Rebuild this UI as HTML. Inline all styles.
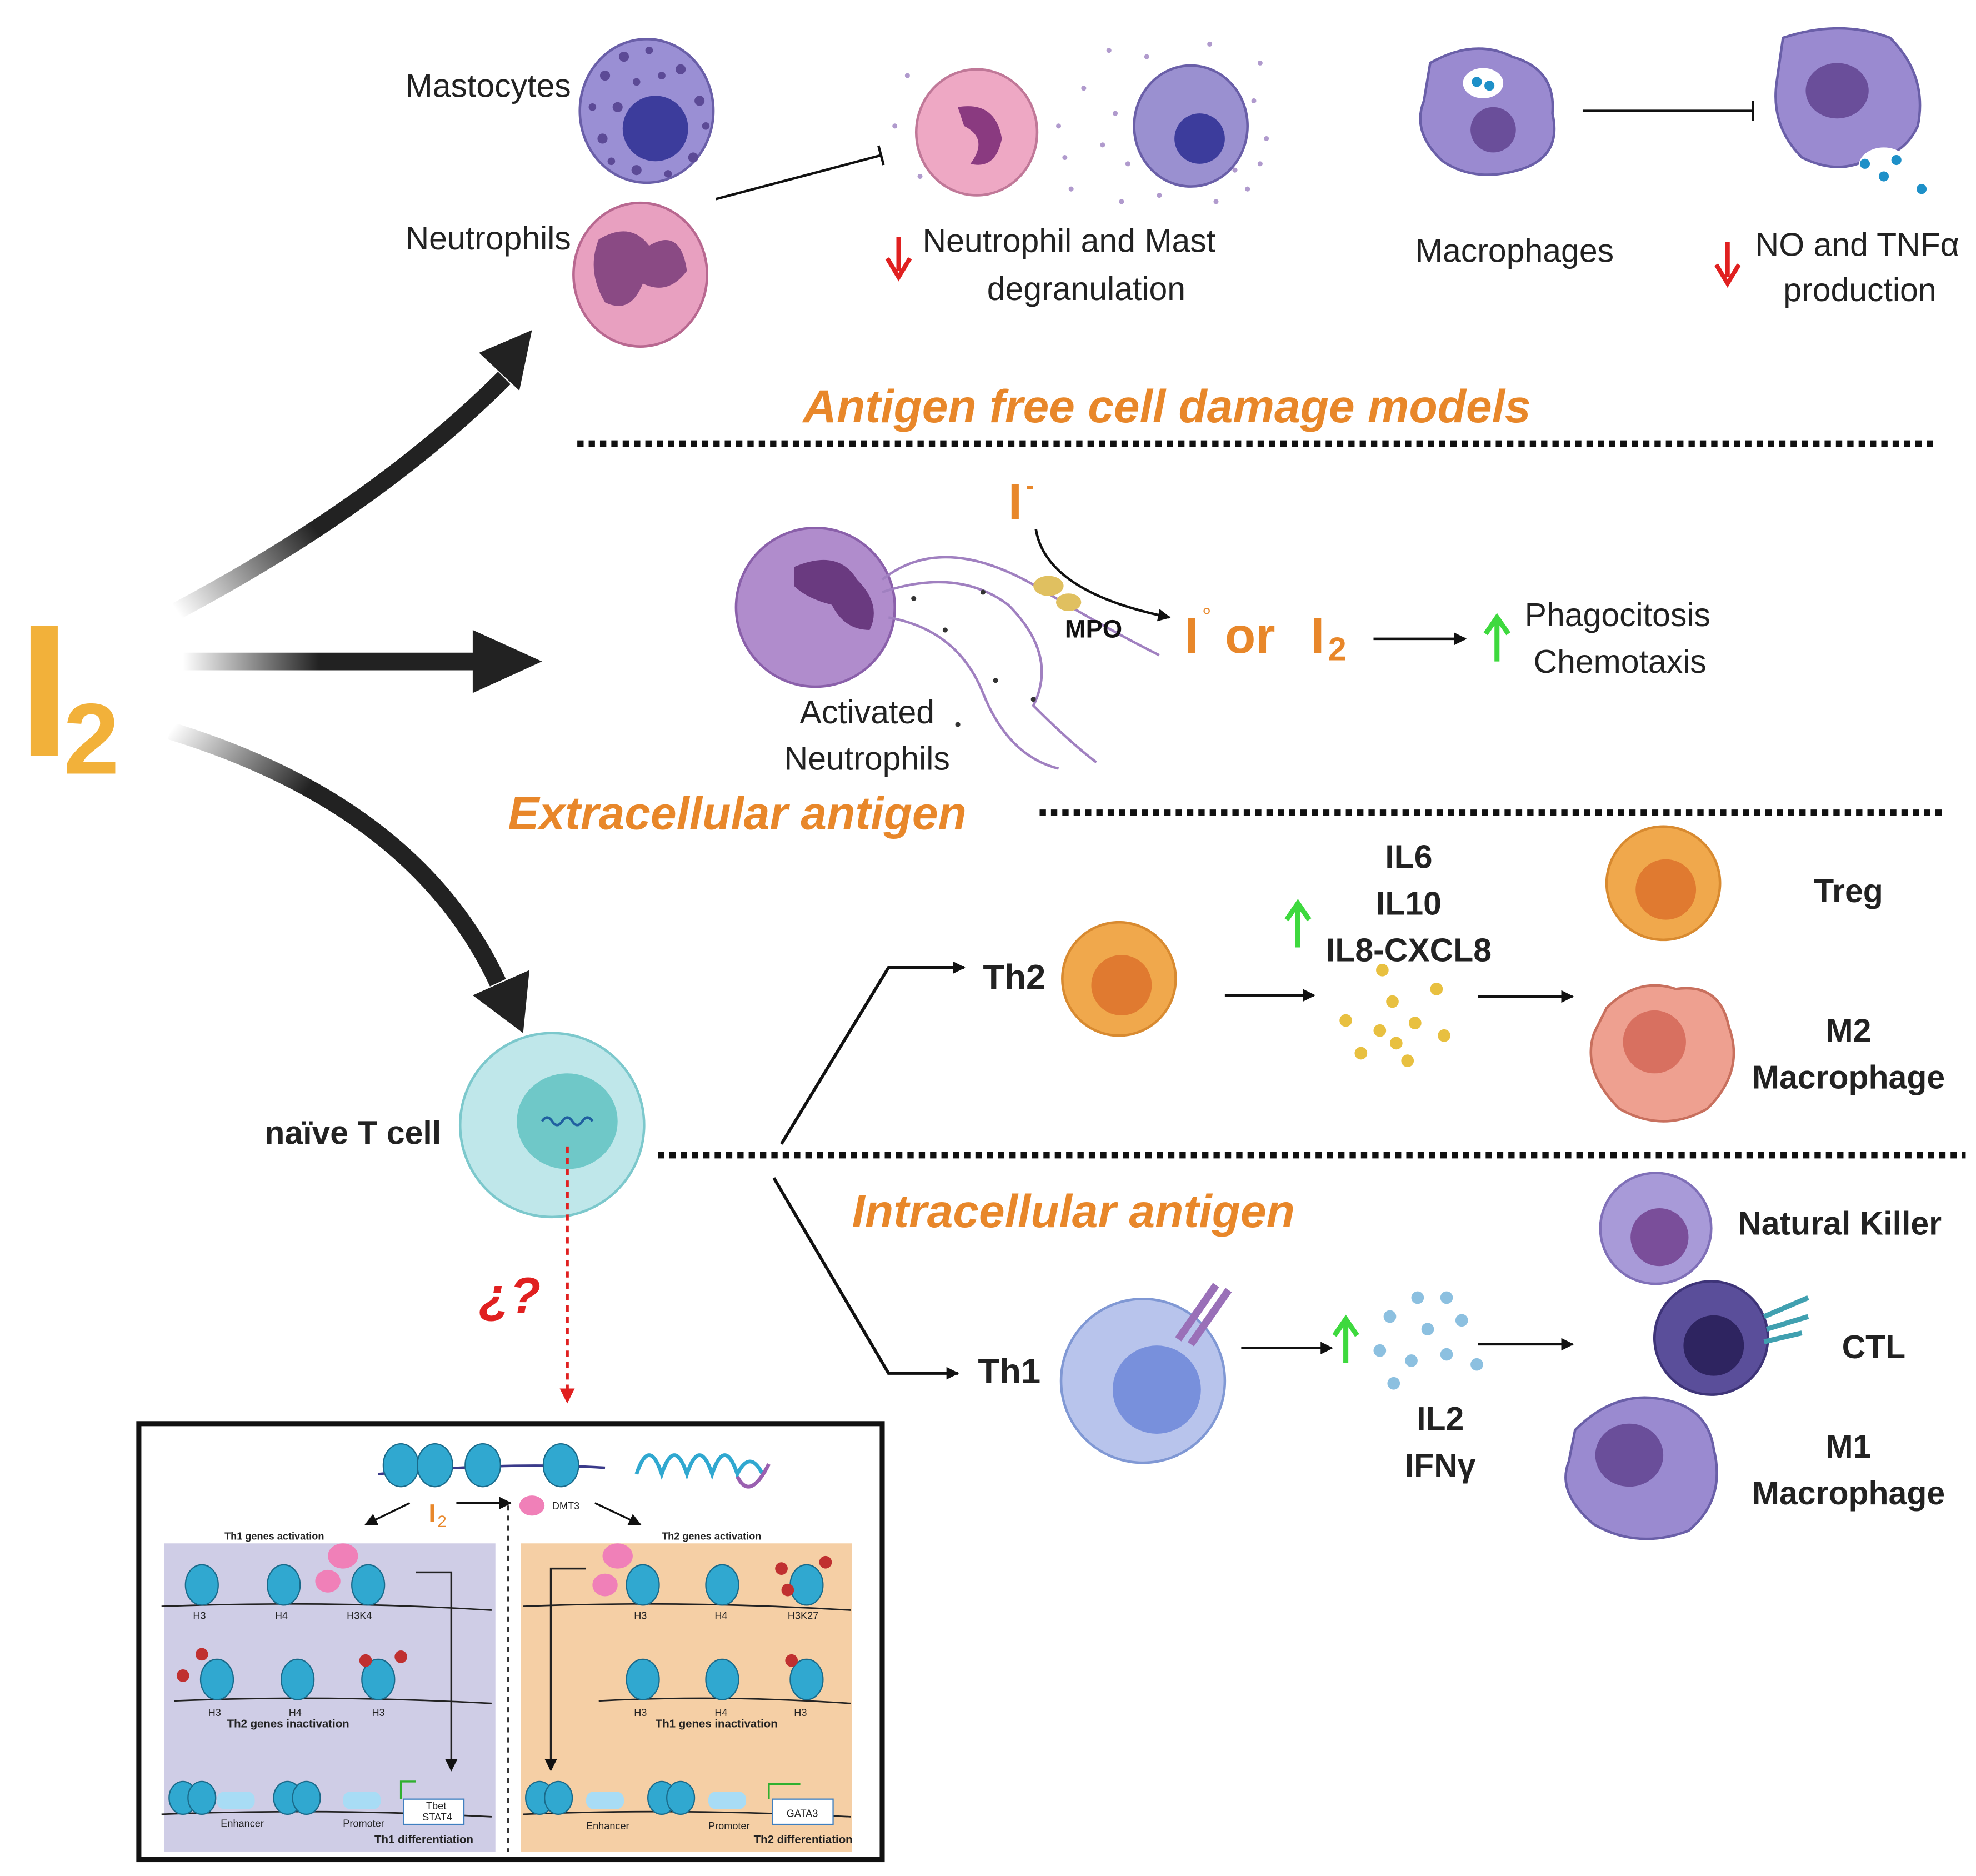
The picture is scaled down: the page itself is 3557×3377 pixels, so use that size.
<!DOCTYPE html>
<html><head><meta charset="utf-8"><style>
html,body{margin:0;padding:0;background:#fff;}
svg{display:block;}
text{font-family:"Liberation Sans","DejaVu Sans",sans-serif;}
</style></head><body>
<svg width="3557" height="3377" viewBox="0 0 1568 1489" xmlns="http://www.w3.org/2000/svg">
<defs>
<linearGradient id="gu" gradientUnits="userSpaceOnUse" x1="140" y1="485" x2="400" y2="300"><stop offset="0" stop-color="#222" stop-opacity="0"/><stop offset="0.4" stop-color="#222"/></linearGradient>
<linearGradient id="gm" gradientUnits="userSpaceOnUse" x1="145" y1="525" x2="385" y2="525"><stop offset="0" stop-color="#222" stop-opacity="0"/><stop offset="0.45" stop-color="#222"/></linearGradient>
<linearGradient id="gl" gradientUnits="userSpaceOnUse" x1="135" y1="580" x2="395" y2="780"><stop offset="0" stop-color="#222" stop-opacity="0"/><stop offset="0.35" stop-color="#222"/></linearGradient>
<marker id="ah" markerWidth="10" markerHeight="10" refX="9" refY="5" orient="auto" markerUnits="userSpaceOnUse"><path d="M0,0 L10,5 L0,10z" fill="#111"/></marker>
<marker id="tb" markerWidth="4" markerHeight="16" refX="2" refY="8" orient="auto" markerUnits="userSpaceOnUse"><rect x="0" y="0" width="2" height="16" fill="#111"/></marker>
<marker id="rh" markerWidth="12" markerHeight="12" refX="10" refY="6" orient="auto" markerUnits="userSpaceOnUse"><path d="M0,0 L12,6 L0,12z" fill="#e02020"/></marker>
</defs>

<!-- I2 -->
<text x="14" y="600" font-size="150" font-weight="bold" fill="#f2b13a">I</text>
<text x="50" y="614" font-size="80" font-weight="bold" fill="#f2b13a">2</text>

<!-- big arrows -->
<path d="M140,485 Q300,400 400,300" stroke="url(#gu)" stroke-width="14" fill="none"/>
<path d="M380,280 L422,262 L412,310z" fill="#222"/>
<path d="M145,525 L385,525" stroke="url(#gm)" stroke-width="14" fill="none"/>
<path d="M375,500 L430,525 L375,550z" fill="#222"/>
<path d="M135,580 Q330,640 395,780" stroke="url(#gl)" stroke-width="14" fill="none"/>
<path d="M375,790 L415,820 L420,770z" fill="#222"/>

<!-- dotted lines -->
<line x1="458" y1="352" x2="1537" y2="352" stroke="#111" stroke-width="5" stroke-dasharray="5,4"/>
<line x1="825" y1="645" x2="1545" y2="645" stroke="#111" stroke-width="5" stroke-dasharray="5,4"/>
<line x1="522" y1="917" x2="1560" y2="917" stroke="#111" stroke-width="5" stroke-dasharray="5,4"/>

<!-- headings -->
<g font-style="italic" font-weight="bold" fill="#e8872a" font-size="37">
<text x="926" y="335" text-anchor="middle">Antigen free cell damage models</text>
<text x="403" y="658">Extracellular antigen</text>
<text x="676" y="974">Intracellular antigen</text>
</g>

<!-- top section -->
<text x="453" y="77" font-size="26" text-anchor="end" fill="#222">Mastocytes</text>
<text x="453" y="198" font-size="26" text-anchor="end" fill="#222">Neutrophils</text>
<ellipse cx="513" cy="88" rx="53" ry="57" fill="#9a8fd4" stroke="#6a5fa8" stroke-width="2"/>
<circle cx="520" cy="102" r="26" fill="#3c3c9c"/>
<g fill="#5c4a96"><circle cx="480" cy="60" r="4"/><circle cx="495" cy="45" r="4"/><circle cx="540" cy="55" r="4"/><circle cx="478" cy="110" r="4"/><circle cx="505" cy="135" r="4"/><circle cx="550" cy="125" r="4"/><circle cx="555" cy="80" r="4"/><circle cx="490" cy="85" r="4"/><circle cx="470" cy="85" r="3"/><circle cx="515" cy="40" r="3"/><circle cx="525" cy="60" r="3"/><circle cx="560" cy="100" r="3"/><circle cx="485" cy="128" r="3"/><circle cx="530" cy="138" r="3"/><circle cx="505" cy="65" r="3"/></g>
<ellipse cx="508" cy="218" rx="53" ry="57" fill="#e8a0c0" stroke="#b86890" stroke-width="2"/>
<path d="M475,190 Q500,175 515,195 Q540,180 545,215 Q530,235 510,225 Q500,250 480,240 Q465,215 475,190z" fill="#8a4a84"/>
<line x1="568" y1="158" x2="700" y2="123" stroke="#111" stroke-width="2" marker-end="url(#tb)"/>

<!-- degranulating cells -->
<g fill="#9070b8" opacity="0.7">
<circle cx="720" cy="60" r="2"/><circle cx="730" cy="140" r="2"/><circle cx="860" cy="70" r="2"/><circle cx="850" cy="150" r="2"/><circle cx="880" cy="40" r="2"/><circle cx="1000" cy="50" r="2"/><circle cx="990" cy="150" r="2"/><circle cx="1005" cy="110" r="2"/><circle cx="890" cy="160" r="2"/><circle cx="710" cy="100" r="2"/>
<circle cx="885" cy="90" r="2"/><circle cx="895" cy="130" r="2"/><circle cx="995" cy="80" r="2"/><circle cx="980" cy="135" r="2"/><circle cx="910" cy="45" r="2"/><circle cx="960" cy="35" r="2"/><circle cx="875" cy="115" r="2"/><circle cx="1000" cy="130" r="2"/><circle cx="920" cy="155" r="2"/><circle cx="965" cy="160" r="2"/><circle cx="840" cy="100" r="2"/><circle cx="845" cy="125" r="2"/>
</g>
<ellipse cx="775" cy="105" rx="48" ry="50" fill="#eea8c4" stroke="#c07898" stroke-width="2"/>
<path d="M760,85 Q790,80 795,110 Q790,135 770,130 Q785,110 765,100z" fill="#8a3a80"/>
<ellipse cx="945" cy="100" rx="45" ry="48" fill="#9a90d0" stroke="#6a5fa8" stroke-width="2"/>
<circle cx="952" cy="110" r="20" fill="#3c3c9c"/>
<path d="M713,188 L713,215 M704,205 L713,220 L722,205" stroke="#e02020" stroke-width="3.5" fill="none"/>
<text x="732" y="200" font-size="26" fill="#222">Neutrophil  and Mast</text>
<text x="862" y="238" font-size="26" fill="#222" text-anchor="middle">degranulation</text>

<!-- macrophages -->
<path d="M1135,50 Q1170,30 1200,45 Q1235,55 1232,90 Q1240,125 1205,135 Q1170,145 1145,128 Q1120,105 1130,80z" fill="#9a8ad0" stroke="#6a5fa8" stroke-width="2"/>
<circle cx="1185" cy="103" r="18" fill="#6a4e9a"/>
<ellipse cx="1177" cy="66" rx="16" ry="12" fill="#fff"/>
<circle cx="1172" cy="65" r="4" fill="#1e90c8"/><circle cx="1182" cy="68" r="4" fill="#1e90c8"/>
<line x1="1256" y1="88" x2="1392" y2="88" stroke="#111" stroke-width="2" marker-end="url(#tb)"/>
<path d="M1415,30 Q1460,15 1500,30 Q1530,60 1522,100 Q1510,125 1485,125 Q1460,140 1430,125 Q1405,100 1410,65z" fill="#9a8ad0" stroke="#6a5fa8" stroke-width="2"/>
<ellipse cx="1458" cy="72" rx="25" ry="22" fill="#6a4e9a"/>
<ellipse cx="1495" cy="132" rx="20" ry="15" fill="#fff"/>
<g fill="#1e90c8"><circle cx="1480" cy="130" r="4"/><circle cx="1495" cy="140" r="4"/><circle cx="1525" cy="150" r="4"/><circle cx="1505" cy="127" r="4"/></g>
<text x="1202" y="208" font-size="26" fill="#222" text-anchor="middle">Macrophages</text>
<path d="M1371,192 L1371,220 M1362,210 L1371,225 L1380,210" stroke="#e02020" stroke-width="3.5" fill="none"/>
<text x="1393" y="203" font-size="26" fill="#222">NO and TNFα</text>
<text x="1476" y="239" font-size="26" fill="#222" text-anchor="middle">production</text>

<!-- extracellular section -->
<circle cx="647" cy="482" r="63" fill="#b08ccc" stroke="#8a60aa" stroke-width="2"/>
<path d="M630,450 Q665,435 680,460 Q700,480 690,500 Q670,500 660,480 Q640,475 630,465z" fill="#6a3a80"/>
<path d="M700,470 Q760,450 800,480 Q840,520 820,560 Q850,590 870,605" stroke="#a080c0" stroke-width="2" fill="none"/>
<path d="M705,490 Q760,500 780,550 Q800,600 840,610" stroke="#a080c0" stroke-width="2" fill="none"/>
<path d="M700,460 Q750,420 830,470 Q880,500 920,520" stroke="#a080c0" stroke-width="2" fill="none"/>
<ellipse cx="832" cy="465" rx="12" ry="8" fill="#e0c060"/><ellipse cx="848" cy="478" rx="10" ry="7" fill="#e0c060"/>
<g fill="#333"><circle cx="725" cy="475" r="2"/><circle cx="750" cy="500" r="2"/><circle cx="780" cy="470" r="2"/><circle cx="790" cy="540" r="2"/><circle cx="820" cy="555" r="2"/><circle cx="760" cy="575" r="2"/></g>
<text x="800" y="412" font-size="40" font-weight="bold" fill="#e8872a">I</text>
<text x="814" y="392" font-size="20" font-weight="bold" fill="#e8872a">-</text>
<path d="M822,420 Q830,470 928,490" stroke="#111" stroke-width="2" fill="none" marker-end="url(#ah)"/>
<text x="845" y="506" font-size="20" font-weight="bold" fill="#111">MPO</text>
<text x="940" y="518" font-size="40" font-weight="bold" fill="#e8872a">I</text>
<text x="954" y="495" font-size="18" fill="#e8872a">°</text>
<text x="972" y="518" font-size="40" font-weight="bold" fill="#e8872a">or</text>
<text x="1040" y="518" font-size="40" font-weight="bold" fill="#e8872a">I</text>
<text x="1054" y="524" font-size="26" font-weight="bold" fill="#e8872a">2</text>
<line x1="1090" y1="507" x2="1163" y2="507" stroke="#111" stroke-width="2" marker-end="url(#ah)"/>
<path d="M1188,525 L1188,493 M1179,503 L1188,490 L1197,503" stroke="#3ed93e" stroke-width="4" fill="none"/>
<text x="1210" y="497" font-size="26" fill="#222">Phagocitosis</text>
<text x="1217" y="534" font-size="26" fill="#222">Chemotaxis</text>
<text x="688" y="574" font-size="26" fill="#222" text-anchor="middle">Activated</text>
<text x="688" y="611" font-size="26" fill="#222" text-anchor="middle">Neutrophils</text>

<!-- naive T cell -->
<circle cx="438" cy="893" r="73" fill="#bfe7ea" stroke="#7cc8cc" stroke-width="2"/>
<ellipse cx="450" cy="890" rx="40" ry="38" fill="#6fc8c8"/>
<path d="M430,890 q4,-6 8,0 q4,6 8,0 q4,-6 8,0 q4,6 8,0 q4,-6 8,0" stroke="#2060a0" stroke-width="2" fill="none"/>
<text x="350" y="908" font-size="26" font-weight="bold" fill="#222" text-anchor="end">naïve T cell</text>
<line x1="450" y1="910" x2="450" y2="1112" stroke="#e02020" stroke-width="2.5" stroke-dasharray="5,4" marker-end="url(#rh)"/>
<text x="380" y="1042" font-size="40" font-weight="bold" font-style="italic" fill="#e02020">¿?</text>

<!-- branches -->
<path d="M620,908 L705,768 L765,768" stroke="#111" stroke-width="2.5" fill="none" marker-end="url(#ah)"/>
<path d="M614,935 L705,1090 L760,1090" stroke="#111" stroke-width="2.5" fill="none" marker-end="url(#ah)"/>
<text x="780" y="785" font-size="28" font-weight="bold" fill="#222">Th2</text>
<text x="776" y="1098" font-size="28" font-weight="bold" fill="#222">Th1</text>
<circle cx="888" cy="777" r="45" fill="#f0a84c" stroke="#d88a30" stroke-width="2"/>
<circle cx="890" cy="782" r="24" fill="#e07a30"/>
<line x1="972" y1="790" x2="1043" y2="790" stroke="#111" stroke-width="2" marker-end="url(#ah)"/>
<path d="M1030,752 L1030,720 M1021,730 L1030,717 L1039,730" stroke="#3ed93e" stroke-width="4" fill="none"/>
<g font-size="26" font-weight="bold" fill="#222" text-anchor="middle">
<text x="1118" y="689">IL6</text><text x="1118" y="726">IL10</text><text x="1118" y="763">IL8-CXCL8</text>
<text x="1143" y="1135">IL2</text><text x="1143" y="1172">IFNγ</text>
</g>
<g fill="#e8c040"><circle cx="1097" cy="770" r="5"/><circle cx="1140" cy="785" r="5"/><circle cx="1068" cy="810" r="5"/><circle cx="1105" cy="795" r="5"/><circle cx="1095" cy="818" r="5"/><circle cx="1123" cy="812" r="5"/><circle cx="1146" cy="822" r="5"/><circle cx="1080" cy="836" r="5"/><circle cx="1108" cy="828" r="5"/><circle cx="1117" cy="842" r="5"/></g>
<line x1="1173" y1="791" x2="1248" y2="791" stroke="#111" stroke-width="2" marker-end="url(#ah)"/>
<circle cx="1320" cy="701" r="45" fill="#f0a84c" stroke="#d88a30" stroke-width="2"/>
<circle cx="1322" cy="706" r="24" fill="#e07a30"/>
<text x="1467" y="716" font-size="26" font-weight="bold" fill="#222" text-anchor="middle">Treg</text>
<path d="M1275,800 Q1300,775 1330,785 Q1365,780 1372,815 Q1385,850 1355,880 Q1320,900 1285,880 Q1255,850 1265,820z" fill="#eea090" stroke="#c8705e" stroke-width="2"/>
<circle cx="1313" cy="827" r="25" fill="#d87060"/>
<text x="1467" y="827" font-size="26" font-weight="bold" fill="#222" text-anchor="middle">M2</text>
<text x="1467" y="864" font-size="26" font-weight="bold" fill="#222" text-anchor="middle">Macrophage</text>

<circle cx="907" cy="1096" r="65" fill="#b8c4ec" stroke="#8098d4" stroke-width="2"/>
<circle cx="918" cy="1103" r="35" fill="#7890dc"/>
<path d="M935,1063 L965,1020 M945,1067 L975,1024" stroke="#9a70b8" stroke-width="6"/>
<line x1="985" y1="1070" x2="1057" y2="1070" stroke="#111" stroke-width="2" marker-end="url(#ah)"/>
<path d="M1068,1082 L1068,1050 M1059,1060 L1068,1047 L1077,1060" stroke="#3ed93e" stroke-width="4" fill="none"/>
<g fill="#8cc0e0"><circle cx="1125" cy="1030" r="5"/><circle cx="1148" cy="1030" r="5"/><circle cx="1103" cy="1045" r="5"/><circle cx="1133" cy="1055" r="5"/><circle cx="1160" cy="1048" r="5"/><circle cx="1095" cy="1072" r="5"/><circle cx="1120" cy="1080" r="5"/><circle cx="1148" cy="1075" r="5"/><circle cx="1172" cy="1083" r="5"/><circle cx="1106" cy="1098" r="5"/></g>
<line x1="1173" y1="1067" x2="1248" y2="1067" stroke="#111" stroke-width="2" marker-end="url(#ah)"/>
<circle cx="1314" cy="975" r="44" fill="#a89ad8" stroke="#8070b8" stroke-width="2"/>
<circle cx="1317" cy="982" r="23" fill="#7a4e9a"/>
<text x="1460" y="980" font-size="26" font-weight="bold" fill="#222" text-anchor="middle">Natural Killer</text>
<circle cx="1358" cy="1062" r="45" fill="#5a4e9a" stroke="#3e3478" stroke-width="2"/>
<circle cx="1360" cy="1068" r="24" fill="#2e2460"/>
<path d="M1400,1045 L1435,1030 M1402,1055 L1435,1045 M1400,1065 L1430,1058" stroke="#40a0b0" stroke-width="4"/>
<text x="1487" y="1078" font-size="26" font-weight="bold" fill="#222" text-anchor="middle">CTL</text>
<path d="M1250,1135 Q1280,1105 1315,1110 Q1355,1115 1360,1150 Q1370,1190 1340,1215 Q1300,1230 1265,1210 Q1235,1185 1245,1160z" fill="#9a8ad0" stroke="#6a5fa8" stroke-width="2"/>
<ellipse cx="1293" cy="1155" rx="27" ry="25" fill="#6a4e9a"/>
<text x="1467" y="1157" font-size="26" font-weight="bold" fill="#222" text-anchor="middle">M1</text>
<text x="1467" y="1194" font-size="26" font-weight="bold" fill="#222" text-anchor="middle">Macrophage</text>

<!-- bottom box -->
<rect x="110" y="1130" width="590" height="346" fill="#fff" stroke="#111" stroke-width="4"/>
<rect x="130" y="1225" width="263" height="245" fill="#cfcde6"/>
<rect x="413" y="1225" width="263" height="245" fill="#f5cfa5"/>
<line x1="403" y1="1195" x2="403" y2="1470" stroke="#333" stroke-width="1.5" stroke-dasharray="4,4"/>
<path d="M300,1170 Q400,1160 480,1165" stroke="#3a3a8a" stroke-width="2" fill="none"/>
<g fill="#30a8d0" stroke="#1a6a8a"><ellipse cx="318" cy="1163" rx="14" ry="17"/><ellipse cx="345" cy="1163" rx="14" ry="17"/><ellipse cx="383" cy="1163" rx="14" ry="17"/><ellipse cx="445" cy="1163" rx="14" ry="17"/></g>
<path d="M505,1170 q10,-30 20,0 q10,-30 20,0 q10,-30 20,0 q10,-30 20,0 q10,-20 20,0" stroke="#30a8d0" stroke-width="3" fill="none"/>
<path d="M585,1172 q10,20 25,-10" stroke="#9a60b0" stroke-width="3" fill="none"/>
<text x="340" y="1208" font-size="20" font-weight="bold" fill="#e8872a">I</text><text x="347" y="1212" font-size="13" fill="#e8872a">2</text>
<line x1="362" y1="1193" x2="405" y2="1193" stroke="#111" stroke-width="2" marker-end="url(#ah)"/>
<ellipse cx="422" cy="1195" rx="10" ry="8" fill="#f080b8"/>
<text x="438" y="1198" font-size="8" fill="#222">DMT3</text>
<line x1="325" y1="1193" x2="290" y2="1210" stroke="#111" stroke-width="1.5" marker-end="url(#ah)"/>
<line x1="472" y1="1193" x2="508" y2="1210" stroke="#111" stroke-width="1.5" marker-end="url(#ah)"/>
<text x="178" y="1222" font-size="8" font-weight="bold" fill="#222">Th1 genes activation</text>
<text x="525" y="1222" font-size="8" font-weight="bold" fill="#222">Th2 genes activation</text>
<g stroke="#222" stroke-width="1.2" fill="none">
<path d="M128,1275 Q260,1270 390,1278"/><path d="M138,1350 Q260,1345 390,1352"/><path d="M128,1440 Q260,1435 390,1442"/>
<path d="M415,1275 Q540,1270 675,1278"/><path d="M475,1350 Q570,1345 675,1352"/><path d="M415,1440 Q540,1435 675,1442"/>
</g>
<g fill="#30a8d0" stroke="#1a6a8a">
<ellipse cx="160" cy="1258" rx="13" ry="16"/><ellipse cx="225" cy="1258" rx="13" ry="16"/><ellipse cx="292" cy="1258" rx="13" ry="16"/>
<ellipse cx="172" cy="1333" rx="13" ry="16"/><ellipse cx="236" cy="1333" rx="13" ry="16"/><ellipse cx="300" cy="1333" rx="13" ry="16"/>
<ellipse cx="145" cy="1427" rx="11" ry="13"/><ellipse cx="160" cy="1427" rx="11" ry="13"/><ellipse cx="228" cy="1427" rx="11" ry="13"/><ellipse cx="243" cy="1427" rx="11" ry="13"/>
<ellipse cx="510" cy="1258" rx="13" ry="16"/><ellipse cx="573" cy="1258" rx="13" ry="16"/><ellipse cx="640" cy="1258" rx="13" ry="16"/>
<ellipse cx="510" cy="1333" rx="13" ry="16"/><ellipse cx="573" cy="1333" rx="13" ry="16"/><ellipse cx="640" cy="1333" rx="13" ry="16"/>
<ellipse cx="428" cy="1427" rx="11" ry="13"/><ellipse cx="443" cy="1427" rx="11" ry="13"/><ellipse cx="525" cy="1427" rx="11" ry="13"/><ellipse cx="540" cy="1427" rx="11" ry="13"/>
</g>
<g fill="#a8dcf5"><rect x="172" y="1422" width="30" height="14" rx="6"/><rect x="272" y="1422" width="30" height="14" rx="6"/><rect x="465" y="1422" width="30" height="14" rx="6"/><rect x="562" y="1422" width="30" height="14" rx="6"/></g>
<g fill="#f080b8"><ellipse cx="272" cy="1235" rx="12" ry="10"/><ellipse cx="260" cy="1255" rx="10" ry="9"/><ellipse cx="490" cy="1235" rx="12" ry="10"/><ellipse cx="480" cy="1258" rx="10" ry="9"/></g>
<g fill="#c03030"><circle cx="160" cy="1313" r="5"/><circle cx="145" cy="1330" r="5"/><circle cx="290" cy="1318" r="5"/><circle cx="318" cy="1315" r="5"/><circle cx="620" cy="1245" r="5"/><circle cx="625" cy="1262" r="5"/><circle cx="655" cy="1240" r="5"/><circle cx="628" cy="1318" r="5"/></g>
<rect x="320" y="1428" width="48" height="20" fill="#fff" stroke="#4080c0"/>
<rect x="613" y="1428" width="48" height="20" fill="#fff" stroke="#4080c0"/>
<path d="M318,1428 L318,1414 L330,1414" stroke="#30b030" stroke-width="1.5" fill="none"/>
<path d="M610,1428 L610,1416 L635,1416" stroke="#30b030" stroke-width="1.5" fill="none"/>
<path d="M330,1248 L358,1248 L358,1405" stroke="#222" stroke-width="1.5" fill="none" marker-end="url(#ah)"/>
<path d="M465,1245 L437,1245 L437,1405" stroke="#222" stroke-width="1.5" fill="none" marker-end="url(#ah)"/>
<g font-size="8" fill="#222">
<text x="153" y="1285">H3</text><text x="218" y="1285">H4</text><text x="275" y="1285">H3K4</text>
<text x="165" y="1362">H3</text><text x="229" y="1362">H4</text><text x="295" y="1362">H3</text>
<text x="503" y="1285">H3</text><text x="567" y="1285">H4</text><text x="625" y="1285">H3K27</text>
<text x="503" y="1362">H3</text><text x="567" y="1362">H4</text><text x="630" y="1362">H3</text>
<text x="175" y="1450">Enhancer</text><text x="272" y="1450">Promoter</text>
<text x="465" y="1452">Enhancer</text><text x="562" y="1452">Promoter</text>
<text x="338" y="1436">Tbet</text><text x="335" y="1445">STAT4</text><text x="624" y="1442">GATA3</text>
</g>
<g font-size="9" font-weight="bold" fill="#222">
<text x="180" y="1371">Th2 genes inactivation</text><text x="520" y="1371">Th1 genes inactivation</text>
<text x="297" y="1463">Th1 differentiation</text><text x="598" y="1463">Th2 differentiation</text>
</g>
</svg>
</body></html>
